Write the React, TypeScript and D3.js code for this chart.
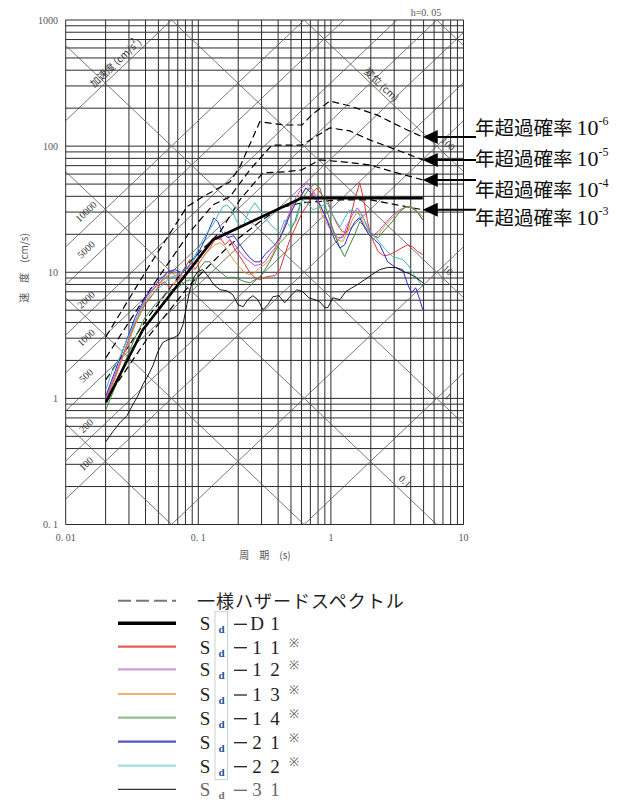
import React from 'react';
import * as d3 from 'd3';

// ---------- axes ----------
const X0 = 65.7, X1 = 463.5, Y0 = 20, Y1 = 524.5;
const xScale = d3.scaleLog().domain([0.01, 10]).range([X0, X1]);
const yScale = d3.scaleLog().domain([0.1, 1000]).range([Y1, Y0]);

const xTickValues = [0.01, 0.1, 1, 10];
const xTickLabels = ['0. 01', '0. 1', '1', '10'];
const yTickValues = [0.1, 1, 10, 100, 1000];
const yTickLabels = ['0. 1', '1', '10', '100', '1000'];

// tripartite grid
const accLines = [1, 10, 100, 200, 500, 1000, 2000, 5000, 10000, 100000];
const accLabelValues = [100, 200, 500, 1000, 2000, 5000, 10000];
const dispLines = [0.001, 0.01, 0.1, 1, 10, 100, 1000];
const dispLabelValues = [0.1, 1, 10, 100];
const dispLabelTexts = ['0.1', '1', '10', '100'];

// ---------- data: periods (s) and pseudo velocity (cm/s) ----------
// Uniform hazard spectra
const h6T = [0.0201, 0.0432, 0.082, 0.108, 0.173, 0.206, 0.291, 0.449, 0.604, 0.718, 0.982, 1.39, 2.22, 3.48, 4.93];
const h6V = [3.08, 11.5, 33.0, 39.6, 52.1, 68.5, 156, 147, 147, 177, 228, 208, 177, 139.5, 118];
const h5T = [0.0201, 0.0432, 0.0865, 0.129, 0.173, 0.245, 0.359, 0.604, 0.982, 1.39, 1.96, 3.14, 4.93];
const h5V = [2.10, 7.27, 20.9, 34.2, 39.6, 64.9, 102, 102, 139.5, 132, 112, 93.4, 77.8];
const h4T = [0.0201, 0.0432, 0.0865, 0.146, 0.206, 0.307, 0.449, 0.604, 0.825, 1.23, 1.96, 3.14, 4.93];
const h4V = [1.41, 4.61, 12.1, 20.9, 37.5, 61.4, 62.6, 64.9, 77.8, 75, 71, 61.4, 54];
const h3T = [0.0201, 0.0432, 0.0865, 0.173, 0.291, 0.412, 0.604, 1.17, 2.0, 3.14, 4.93];
const h3V = [0.977, 3.2, 7.96, 16.5, 25.1, 32.4, 35.5, 37.5, 37.5, 34.2, 31.3];

// Sd-D1
const d1T = [0.0201, 0.0382, 0.129, 0.6, 4.93];
const d1V = [0.93, 3.5, 18.1, 38.7, 38.7];

// Sd-11
const s11T = [0.0201, 0.0235, 0.028, 0.0333, 0.0396, 0.0471, 0.0514, 0.056, 0.0611, 0.0666, 0.0727, 0.0793, 0.0865, 0.0943, 0.103, 0.112, 0.122, 0.133, 0.146, 0.159, 0.173, 0.189, 0.206, 0.225, 0.245, 0.267, 0.291, 0.318, 0.346, 0.378, 0.412, 0.449, 0.49, 0.543, 0.604, 0.666, 0.733, 0.786, 0.854, 0.94, 1.03, 1.12, 1.22, 1.31, 1.39, 1.51, 1.65, 1.77, 1.89, 2.03, 2.27, 2.5, 2.78, 3.08, 3.42, 3.79, 4.14, 4.51, 4.93];
const s11V = [0.977, 1.46, 2.43, 3.84, 5.53, 7.01, 7.96, 8.41, 7.53, 8.25, 9.1, 10.9, 12.6, 10.5, 12.1, 13.8, 15.5, 18.1, 18.8, 16.5, 18.1, 15.1, 13.3, 11.5, 9.9, 9.1, 8.7, 9.1, 9.3, 9.4, 10.5, 13.8, 18.1, 22.9, 29.4, 34.2, 43.3, 46.4, 41.1, 37.5, 28.5, 23.8, 21, 20.7, 26, 37.5, 51, 37.5, 25.1, 18.8, 14.6, 13.5, 13.8, 14.6, 15.6, 16.5, 15.9, 14.6, 13.8];

// Sd-12
const s12T = [0.0201, 0.0235, 0.028, 0.0333, 0.0396, 0.0447, 0.0514, 0.059, 0.0666, 0.0727, 0.0793, 0.0865, 0.0943, 0.103, 0.112, 0.122, 0.133, 0.146, 0.159, 0.173, 0.189, 0.206, 0.225, 0.245, 0.267, 0.291, 0.318, 0.346, 0.378, 0.412, 0.449, 0.49, 0.543, 0.604, 0.666, 0.728, 0.786, 0.86, 0.94, 1.03, 1.12, 1.23, 1.33, 1.45, 1.58, 1.72, 1.89, 2.06, 2.27, 2.55, 2.9, 3.31, 3.68, 4.03, 4.47, 4.93];
const s12V = [1.01, 1.54, 2.43, 4.05, 6.06, 7.27, 8.26, 10.1, 10.1, 9.55, 10.5, 10.9, 12.1, 13.0, 15.1, 17.5, 18.8, 18.1, 21, 18.1, 16.5, 14.5, 13, 12.1, 11.3, 11.5, 12.1, 13.8, 15.6, 18.1, 23.8, 30.2, 38.9, 46.7, 51.2, 45, 38.9, 31.3, 26, 21.7, 18.8, 18.8, 23.8, 28.5, 32.4, 28.5, 22.5, 19.5, 21, 24.2, 28.1, 31.3, 33.0, 32.4, 30.2, 26];

// Sd-13
const s13T = [0.0201, 0.0235, 0.028, 0.0333, 0.0396, 0.0447, 0.0514, 0.059, 0.0666, 0.0727, 0.0793, 0.0865, 0.0943, 0.103, 0.112, 0.122, 0.133, 0.146, 0.159, 0.173, 0.189, 0.206, 0.225, 0.245, 0.267, 0.291, 0.318, 0.346, 0.378, 0.412, 0.449, 0.49, 0.543, 0.604, 0.666, 0.728, 0.786, 0.86, 0.94, 1.03, 1.12, 1.23, 1.33, 1.45, 1.58, 1.72, 1.89, 2.06, 2.27, 2.55, 2.9, 3.31, 3.68, 4.03, 4.47, 4.93];
const s13V = [0.94, 1.41, 2.35, 3.77, 5.73, 7.0, 8.26, 9.55, 9.9, 9.2, 9.55, 10.5, 11.5, 12.1, 13.8, 15.1, 16.5, 17.1, 15.9, 13.8, 12.1, 10.9, 9.9, 9.55, 9.9, 10.9, 11.5, 12.6, 15.1, 18.1, 22.5, 28.5, 36.1, 42.6, 46.7, 43.5, 37.5, 28.5, 23.8, 20.9, 18.1, 17.5, 20.9, 26, 30.2, 26, 20.9, 18.1, 19.8, 23.3, 27, 30.7, 33, 33, 30.7, 27.5];

// Sd-14
const s14T = [0.0201, 0.0235, 0.028, 0.0333, 0.0396, 0.0471, 0.056, 0.0632, 0.0702, 0.0793, 0.0865, 0.0943, 0.103, 0.112, 0.122, 0.133, 0.146, 0.164, 0.189, 0.206, 0.225, 0.245, 0.267, 0.291, 0.318, 0.346, 0.378, 0.412, 0.449, 0.49, 0.534, 0.583, 0.636, 0.694, 0.757, 0.825, 0.9, 0.982, 1.07, 1.17, 1.27, 1.39, 1.51, 1.65, 1.83, 2.03, 2.27, 2.55, 2.9, 3.31, 3.68, 4.03, 4.47, 4.93];
const s14V = [0.814, 1.22, 1.96, 3.03, 4.36, 5.53, 6.64, 7.27, 7.53, 8.4, 8.73, 7.96, 10.9, 12.1, 12.1, 10.9, 10.1, 9.1, 9.1, 8.73, 8.41, 8.26, 8.73, 9.1, 10.5, 12.1, 14.5, 17.1, 18.8, 20.9, 25.1, 34.2, 41.1, 46.7, 50.2, 46.7, 34.2, 26, 19.8, 15.6, 13.3, 16.5, 19.8, 25.1, 22.5, 19.8, 18.8, 21.7, 25.1, 30.2, 33, 33, 30.2, 26];

// Sd-21
const s21T = [0.0201, 0.0235, 0.028, 0.0333, 0.0396, 0.0447, 0.0514, 0.059, 0.0666, 0.0752, 0.0835, 0.0943, 0.103, 0.112, 0.122, 0.131, 0.1406, 0.1507, 0.167, 0.185, 0.206, 0.225, 0.245, 0.267, 0.291, 0.318, 0.346, 0.378, 0.412, 0.449, 0.49, 0.543, 0.604, 0.647, 0.694, 0.757, 0.825, 0.9, 0.982, 1.07, 1.17, 1.27, 1.39, 1.51, 1.65, 1.8, 1.96, 2.14, 2.34, 2.68, 3.08, 3.48, 3.8, 4.07, 4.36, 4.68, 4.93];
const s21V = [1.05, 1.63, 2.67, 4.36, 6.28, 7.53, 8.73, 10.1, 10.5, 9.9, 10.9, 13, 15.1, 18.1, 22.5, 27, 25.1, 20.9, 18.8, 19.5, 16.5, 14.5, 13, 12.1, 12.1, 13.8, 15.1, 16.5, 18.8, 22.5, 28.5, 35.5, 41.1, 46.7, 43.5, 38.9, 34.2, 28.5, 22.5, 18.1, 15.6, 16.5, 20.9, 25.1, 27, 22.5, 19.5, 18.1, 16.5, 12.1, 10.9, 10.5, 7.96, 6.88, 7.53, 6.06, 5.05];

// Sd-22
const s22T = [0.0201, 0.0223, 0.0248, 0.028, 0.0333, 0.0396, 0.0471, 0.054, 0.0611, 0.0702, 0.0793, 0.0895, 0.0993, 0.108, 0.118, 0.129, 0.141, 0.153, 0.164, 0.179, 0.195, 0.217, 0.24, 0.267, 0.291, 0.318, 0.359, 0.412, 0.449, 0.49, 0.543, 0.604, 0.666, 0.733, 0.825, 0.94, 1.03, 1.17, 1.27, 1.39, 1.54, 1.71, 1.96, 2.34, 2.59, 2.93, 3.48, 3.8, 4.14, 4.51, 4.93];
const s22V = [1.17, 1.63, 1.96, 2.67, 4.05, 5.83, 7.0, 7.96, 9.1, 9.55, 10.5, 12.1, 15.1, 18.1, 20.9, 23.8, 28.5, 33, 34.2, 31.3, 25.1, 22.9, 30.2, 35.5, 31.3, 27, 23.3, 20.5, 26, 23.3, 25.1, 37.5, 35.5, 31.3, 33, 35.5, 28.5, 22.9, 27, 31.3, 30.2, 28.1, 21.7, 17.1, 15.1, 13.3, 12.6, 11.5, 9.9, 8.73, 7.67];

// Sd-31
const s31T = [0.0201, 0.0227, 0.0257, 0.029, 0.0321, 0.0351, 0.0382, 0.0417, 0.0455, 0.0496, 0.054, 0.059, 0.0655, 0.0714, 0.0766, 0.082, 0.0865, 0.0926, 0.099, 0.108, 0.118, 0.131, 0.146, 0.164, 0.182, 0.199, 0.218, 0.236, 0.258, 0.281, 0.307, 0.3346, 0.365, 0.405, 0.449, 0.499, 0.553, 0.614, 0.681, 0.757, 0.825, 0.9, 0.948, 1.033, 1.17, 1.29, 1.44, 1.58, 1.8, 2.03, 2.34, 2.68, 3.08, 3.54, 3.93, 4.36, 4.93];
const s31V = [0.454, 0.546, 0.643, 0.73, 0.893, 1.05, 1.29, 1.51, 1.82, 2.35, 2.77, 2.92, 3.03, 3.2, 3.84, 5.53, 7.27, 9.1, 10.1, 10.5, 9.37, 7.96, 7.27, 7.13, 6.64, 5.53, 5.33, 6.06, 6.52, 6.06, 5.05, 5.53, 6.39, 6.52, 5.73, 6.52, 7.27, 7.0, 6.28, 6.06, 5.83, 5.24, 5.24, 6.28, 6.06, 7.0, 7.53, 7.96, 8.73, 9.55, 10.5, 10.9, 10.9, 10.1, 9.72, 9.1, 8.26];

// legend
const legendNames = ['一様ハザードスペクトル', 'D1', '11', '12', '13', '14', '21', '22', '31'];
const legendNote = [false, false, true, true, true, true, true, true, false];
const hazardNames = ['-6', '-5', '-4', '-3'];

const zip = (t: number[], v: number[]) => t.map((d, i) => [d, v[i]] as [number, number]);

const spectra = [
  { t: s11T, v: s11V, color: '#e3312f', lg: '#e85a58' },
  { t: s12T, v: s12V, color: '#c44fc8', lg: '#cf9ed6' },
  { t: s13T, v: s13V, color: '#dc9a3e', lg: '#ebb46a' },
  { t: s14T, v: s14V, color: '#3e8a3e', lg: '#93bd93' },
  { t: s21T, v: s21V, color: '#2d2dc4', lg: '#5454c6' },
  { t: s22T, v: s22V, color: '#3dbcbc', lg: '#9adfe0' },
];
const hazards = [zip(h6T, h6V), zip(h5T, h5V), zip(h4T, h4V), zip(h3T, h3V)];

export default function App() {
  const line = d3.line<[number, number]>().x(d => xScale(d[0])).y(d => yScale(d[1]));
  const TWO_PI = 2 * Math.PI;

  const vGrid: number[] = [];
  for (let e = -2; e <= 0; e++) for (let k = 1; k <= 9; k++) vGrid.push(k * Math.pow(10, e));
  vGrid.push(10);
  const hGrid: number[] = [];
  for (let e = -1; e <= 2; e++) for (let k = 1; k <= 9; k++) hGrid.push(k * Math.pow(10, e));
  hGrid.push(1000);

  const tEnds: [number, number] = [0.01, 10];
  const accPath = (a: number) => line(tEnds.map(t => [t, (a * t) / TWO_PI] as [number, number]));
  const dispPath = (dd: number) => line(tEnds.map(t => [t, (TWO_PI * dd) / t] as [number, number]));

  const ang = (Math.atan((yScale(1) - yScale(10)) / (xScale(1) - xScale(0.1))) * 180) / Math.PI;

  const accLabX = 86;
  const accLabT = xScale.invert(accLabX);
  const dispLabX = [405, 448, 448, 448];

  const arrowTipY = hazards.map(h => yScale(h[h.length - 1][1]));
  const tipX = xScale(h6T[h6T.length - 1]);
  const textY = [128, 159, 190, 218];

  const legendY = [600.7, 623.3, 646.7, 669.3, 694, 717.7, 741.7, 765.7, 789.3];

  return (
    <svg width={627} height={803} style={{ position: 'absolute', left: 0, top: 0, background: '#fff' }}
      fontFamily="'Liberation Serif', 'DejaVu Serif', serif">
      <defs>
        <clipPath id="plotClip">
          <rect x={X0} y={Y0} width={X1 - X0} height={Y1 - Y0} />
        </clipPath>
      </defs>
      <rect x={0} y={0} width={627} height={803} fill="#fff" />

      {/* grid */}
      <g stroke="#2a2a2a" strokeWidth={1}>
        {vGrid.map((t, i) => (
          <line key={'v' + i} x1={xScale(t)} x2={xScale(t)} y1={Y0} y2={Y1} />
        ))}
        {hGrid.map((v, i) => (
          <line key={'h' + i} x1={X0} x2={X1} y1={yScale(v)} y2={yScale(v)} />
        ))}
      </g>
      <g clipPath="url(#plotClip)" stroke="#555" strokeWidth={0.8} fill="none">
        {accLines.map((a, i) => <path key={'a' + i} d={accPath(a) || ''} />)}
        {dispLines.map((dd, i) => <path key={'d' + i} d={dispPath(dd) || ''} />)}
      </g>

      {/* diagonal labels */}
      <g fontSize={10} fill="#333" textAnchor="middle">
        {accLabelValues.map((a, i) => {
          const yy = yScale((a * accLabT) / TWO_PI) - 16;
          return (
            <text key={'al' + i} x={accLabX} y={yy} dominantBaseline="central"
              transform={`rotate(${-ang} ${accLabX} ${yy})`}>{a}</text>
          );
        })}
        {dispLabelValues.map((dd, i) => {
          const xx = dispLabX[i];
          const yy = yScale((TWO_PI * dd) / xScale.invert(xx)) - 13;
          return (
            <text key={'dl' + i} x={xx} y={yy} dominantBaseline="central"
              transform={`rotate(${ang} ${xx} ${yy})`}>{dispLabelTexts[i]}</text>
          );
        })}
        <text x={115} y={62} dominantBaseline="central" fontFamily="'Noto Sans CJK JP', sans-serif" fontSize={10}
          transform={`rotate(${-ang} 115 62)`}>加速度 (cm/s<tspan dy={-4} fontSize={7}>2</tspan><tspan dy={4}>)</tspan></text>
        <text x={382} y={84} dominantBaseline="central" fontFamily="'Noto Sans CJK JP', sans-serif" fontSize={10}
          transform={`rotate(${ang} 382 84)`}>変位 (cm)</text>
      </g>

      {/* curves */}
      <g clipPath="url(#plotClip)" fill="none">
        {hazards.map((h, i) => (
          <path key={'hz' + i} d={line(h) || ''} stroke="#000" strokeWidth={1.2} strokeDasharray="7,4" />
        ))}
        {spectra.map((s, i) => (
          <path key={'sp' + i} d={line(zip(s.t, s.v)) || ''} stroke={s.color} strokeWidth={1} />
        ))}
        <path d={line(zip(s31T, s31V)) || ''} stroke="#000" strokeWidth={0.9} />
        <path d={line(zip(d1T, d1V)) || ''} stroke="#000" strokeWidth={2.6} />
      </g>

      {/* axis tick labels */}
      <g fontSize={10} fill="#555">
        {yTickValues.map((v, i) => (
          <text key={'yt' + i} x={58} y={yScale(v)} textAnchor="end" dominantBaseline="central">{yTickLabels[i]}</text>
        ))}
        {xTickValues.map((t, i) => (
          <text key={'xt' + i} x={xScale(t)} y={537} textAnchor="middle" dominantBaseline="central">{xTickLabels[i]}</text>
        ))}
        <text x={426} y={12} textAnchor="middle" dominantBaseline="central">h=0. 05</text>
        <text x={265} y={554} textAnchor="middle" dominantBaseline="central" fontFamily="'Noto Sans CJK JP', sans-serif" fontSize={10}>周　期　(s)</text>
        <text x={23} y={268} textAnchor="middle" dominantBaseline="central" fontFamily="'Noto Sans CJK JP', sans-serif" fontSize={10}
          transform="rotate(-90 23 268)">速　度　(cm/s)</text>
      </g>

      {/* hazard arrows & labels */}
      {arrowTipY.map((ty, i) => (
        <g key={'ar' + i}>
          <path d={`M${tipX},${ty} L${tipX + 15},${ty - 7} L${tipX + 15},${ty + 7} Z`} fill="#000" />
          <line x1={tipX + 14} x2={476} y1={ty} y2={ty} stroke="#000" strokeWidth={2} />
          <text x={475} y={textY[i] + 7} fontSize={19.5} fill="#111">
            <tspan fontFamily="'Noto Sans CJK JP', sans-serif">年超過確率</tspan>
            <tspan dx={4} fontSize={22}>10</tspan>
            <tspan fontSize={12} dy={-10}>{hazardNames[i]}</tspan>
          </text>
        </g>
      ))}

      {/* legend */}
      <g>
        <rect x={215} y={611.7} width={12.5} height={168} fill="none" stroke="#cfcfcf" strokeWidth={1} />
        {legendNames.map((name, i) => {
          const ly = legendY[i];
          let sample;
          if (i === 0) sample = <line x1={118} x2={176} y1={ly} y2={ly} stroke="#777" strokeWidth={2} strokeDasharray="13,5" />;
          else if (i === 1) sample = <line x1={118} x2={176} y1={ly} y2={ly} stroke="#000" strokeWidth={3.5} />;
          else if (i === 8) sample = <line x1={118} x2={176} y1={ly} y2={ly} stroke="#000" strokeWidth={1} />;
          else sample = <line x1={118} x2={176} y1={ly} y2={ly} stroke={spectra[i - 2].lg} strokeWidth={2.2} />;
          const col = i === 8 ? '#666' : '#222';
          return (
            <g key={'lg' + i}>
              {sample}
              {i === 0 ? (
                <text x={197} y={ly + 7} fontSize={18} letterSpacing={1} fill="#222" fontFamily="'Noto Sans CJK JP', sans-serif">{name}</text>
              ) : (
                <g fill={col} fontSize={19} textAnchor="middle">
                  <text x={205} y={ly + 7}>S</text>
                  <text x={221.5} y={ly + 10} fontSize={11} fontWeight="bold" fill={i === 8 ? '#777' : '#1f4f9a'}>d</text>
                  <line x1={234} x2={247} y1={ly + 1} y2={ly + 1} stroke={col} strokeWidth={1.3} />
                  <text x={257} y={ly + 7}>{name[0]}</text>
                  <text x={275} y={ly + 7}>{name[1]}</text>
                  {legendNote[i] && <text x={294} y={ly} fontSize={12} fill="#555">※</text>}
                </g>
              )}
            </g>
          );
        })}
      </g>
    </svg>
  );
}
